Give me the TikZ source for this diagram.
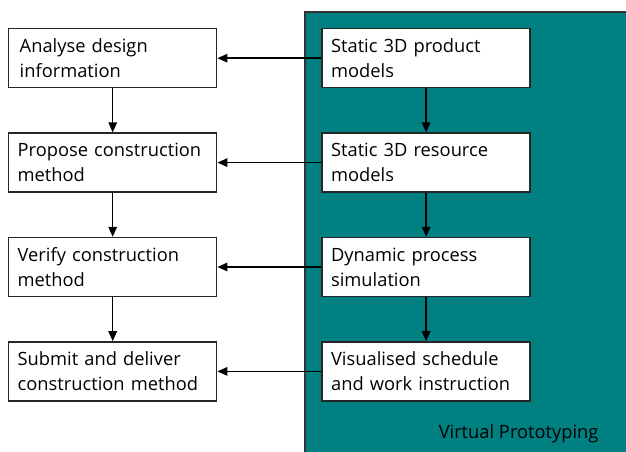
\documentclass[tikz,border=0pt]{standalone}
\usepackage{fontspec}
\setmainfont{Open Sans}
\usetikzlibrary{arrows.meta,positioning}
\definecolor{vpteal}{RGB}{0,128,128}
\tikzset{
  task/.style={rectangle, draw=black!85, line width=1.4pt, fill=white, align=left, text width=190pt, inner xsep=9pt, inner ysep=0pt, minimum height=59pt, font=\fontsize{18.3}{25}\selectfont},
  panel/.style={draw=black!80, line width=1.4pt, fill=vpteal},
  arr/.style={-{Triangle[length=10pt,width=8.5pt]}, line width=1.4pt}
}

\begin{document}
\begin{tikzpicture}[x=1pt, y=1pt]
\useasboundingbox (0,0) rectangle (626,-452);
\clip (0,0) rectangle (626,-452);
\draw[panel] (305,-12) rectangle (640,-470);
\node[task, anchor=north west] (analyse) at (8,-28) {\hspace{2pt}Analyse design\\\hspace{2pt}information};
\node[task, below=44pt of analyse] (propose) {Propose construction\\method};
\node[task, below=44pt of propose] (verify) {Verify construction\\method};
\node[task, below=44pt of verify] (submit) {Submit and deliver\\construction method};
\node[task, right=104pt of analyse] (product) {Static 3D product\\models};
\node[task, right=104pt of propose] (resource) {Static 3D resource\\models};
\node[task, right=104pt of verify] (simulation) {Dynamic process\\simulation};
\node[task, right=104pt of submit] (schedule) {Visualised schedule\\and work instruction};
\node[anchor=base east, font=\fontsize{18.3}{25}\selectfont] (vplabel) at (602,-438) {Virtual Prototyping};
\draw[arr] (analyse) -- (propose);
\draw[arr] (propose) -- (verify);
\draw[arr] (verify) -- (submit);
\draw[arr] (product) -- (resource);
\draw[arr] (resource) -- (simulation);
\draw[arr] (simulation) -- (schedule);
\draw[arr] (product) -- (analyse);
\draw[arr] (resource) -- (propose);
\draw[arr] (simulation) -- (verify);
\draw[arr] (schedule) -- (submit);
\end{tikzpicture}
\end{document}
